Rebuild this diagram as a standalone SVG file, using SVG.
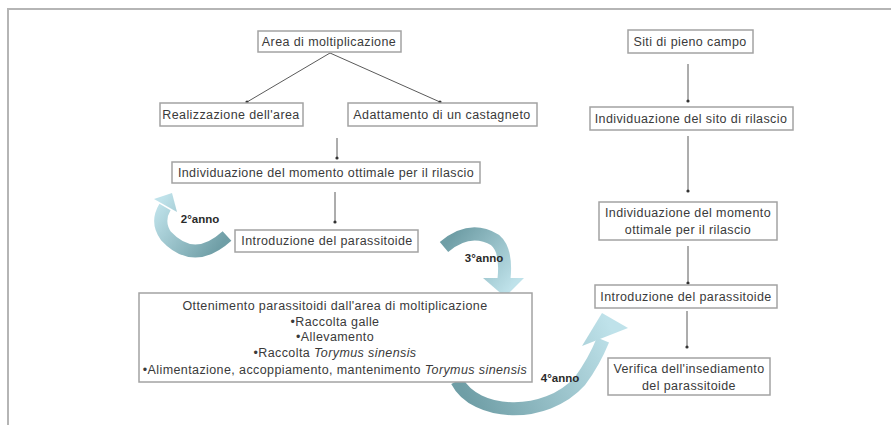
<svg xmlns="http://www.w3.org/2000/svg" width="891" height="425" viewBox="0 0 891 425">
<style>
.box{fill:#fff;stroke:#a3a3a3;stroke-width:1.5}
.t{font-family:"Liberation Sans",Arial,sans-serif;font-size:12.5px;letter-spacing:0.4px;fill:#3a3a3a;text-anchor:middle}
.lbl{font-family:"Liberation Sans",Arial,sans-serif;font-size:11.5px;font-weight:bold;fill:#2a2a2a;text-anchor:middle}
.c{fill:none;stroke:#5a5a5a;stroke-width:1;marker-end:url(#dot)}
.frame{fill:none;stroke:#b5b5b5;stroke-width:2}
</style>
<defs>
<marker id="dot" viewBox="0 0 4 4" refX="2" refY="2" markerWidth="4" markerHeight="4" markerUnits="userSpaceOnUse">
<circle cx="2" cy="2" r="1.6" fill="#333"/>
</marker>
<linearGradient id="g2" gradientUnits="userSpaceOnUse" x1="225" y1="240" x2="165" y2="195">
<stop offset="0" stop-color="#6f9ea6"/><stop offset="1" stop-color="#bfe2ea"/>
</linearGradient>
<linearGradient id="g3" gradientUnits="userSpaceOnUse" x1="445" y1="245" x2="505" y2="295">
<stop offset="0" stop-color="#6f9ea6"/><stop offset="1" stop-color="#bfe2ea"/>
</linearGradient>
<linearGradient id="g4" gradientUnits="userSpaceOnUse" x1="460" y1="385" x2="605" y2="315">
<stop offset="0" stop-color="#6f9ea6"/><stop offset="1" stop-color="#bfe2ea"/>
</linearGradient>
</defs>
<rect width="891" height="425" fill="#fff"/>
<path class="frame" d="M8,425 V9 H891"/>

<g id="connectors">
<line class="c" x1="330" y1="53" x2="247" y2="102"/>
<line class="c" x1="330" y1="53" x2="440" y2="102"/>
<line class="c" x1="337" y1="138" x2="337" y2="158"/>
<line class="c" x1="335" y1="192" x2="335" y2="222"/>
<line class="c" x1="688" y1="64" x2="688" y2="101"/>
<line class="c" x1="688" y1="136" x2="688" y2="191"/>
<line class="c" x1="688" y1="246" x2="688" y2="283"/>
<line class="c" x1="687" y1="311" x2="687" y2="347"/>
</g>

<g id="arrow-2anno">
<path d="M227,236 Q194,266 166,236 Q156,222 165,207" fill="none" stroke="url(#g2)" stroke-width="13"/>
<polygon points="177,212 172,193 154,199" fill="url(#g2)"/>
<text class="lbl" x="200" y="223">2°anno</text>
</g>

<g id="arrow-3anno">
<path d="M444,247 Q470,225 495,240 Q507,250 504,279" fill="none" stroke="url(#g3)" stroke-width="13"/>
<polygon points="483,278 524,278 505,297" fill="url(#g3)"/>
<text class="lbl" x="484" y="262">3°anno</text>
</g>

<g id="arrow-4anno">
<path d="M457,381 C475,416 545,420 580,381 Q594,362 603,340" fill="none" stroke="url(#g4)" stroke-width="13"/>
<polygon points="582,346 602,313 628,328" fill="url(#g4)"/>
<text class="lbl" x="560" y="382">4°anno</text>
</g>

<g id="n-area">
<rect class="box" x="258" y="31" width="143" height="21"/>
<text class="t" x="329" y="46">Area di moltiplicazione</text>
</g>
<g id="n-realizzazione">
<rect class="box" x="160" y="103" width="143" height="23"/>
<text class="t" x="231" y="119">Realizzazione dell'area</text>
</g>
<g id="n-adattamento">
<rect class="box" x="348" y="103" width="189" height="23"/>
<text class="t" x="442" y="119">Adattamento di un castagneto</text>
</g>
<g id="n-momento-1">
<rect class="box" x="172" y="162" width="308" height="21"/>
<text class="t" x="326" y="177">Individuazione del momento ottimale per il rilascio</text>
</g>
<g id="n-introduzione-1">
<rect class="box" x="235" y="230" width="183" height="22"/>
<text class="t" x="327" y="245">Introduzione del parassitoide</text>
</g>
<g id="n-ottenimento">
<rect class="box" x="139" y="293" width="393" height="89"/>
<text class="t" x="335" y="310">Ottenimento parassitoidi dall'area di moltiplicazione</text>
<text class="t" x="335" y="326">•Raccolta galle</text>
<text class="t" x="335" y="341">•Allevamento</text>
<text class="t" x="335" y="357">•Raccolta <tspan font-style="italic">Torymus sinensis</tspan></text>
<text class="t" x="335" y="374">•Alimentazione, accoppiamento, mantenimento <tspan font-style="italic">Torymus sinensis</tspan></text>
</g>
<g id="n-siti">
<rect class="box" x="628" y="30" width="125" height="23"/>
<text class="t" x="690" y="46">Siti di pieno campo</text>
</g>
<g id="n-sito-rilascio">
<rect class="box" x="590" y="107" width="203" height="23"/>
<text class="t" x="691" y="123">Individuazione del sito di rilascio</text>
</g>
<g id="n-momento-2">
<rect class="box" x="599" y="202" width="178" height="38"/>
<text class="t" x="688" y="217">Individuazione del momento</text>
<text class="t" x="688" y="234">ottimale per il rilascio</text>
</g>
<g id="n-introduzione-2">
<rect class="box" x="595" y="285" width="182" height="23"/>
<text class="t" x="686" y="301">Introduzione del parassitoide</text>
</g>
<g id="n-verifica">
<rect class="box" x="608" y="358" width="162" height="37"/>
<text class="t" x="689" y="373">Verifica dell'insediamento</text>
<text class="t" x="689" y="390">del parassitoide</text>
</g>
</svg>
